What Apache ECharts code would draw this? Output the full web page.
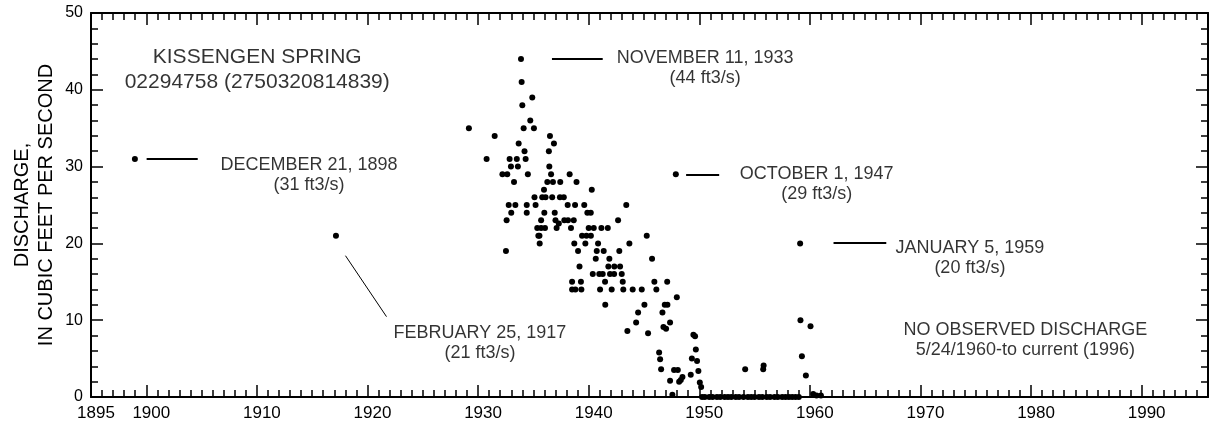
<!DOCTYPE html>
<html>
<head>
<meta charset="utf-8">
<script src="https://cdn.jsdelivr.net/npm/echarts@6/dist/echarts.min.js"></script>
<style>
  html, body { margin: 0; padding: 0; background: #fff; }
  #chart { width: 1213px; height: 427px; }
</style>
</head>
<body>
<div id="chart"></div>
<script>
// ---- data (decimal year, discharge ft3/s) ----
const obsYear = [
  1898.97, 1917.15,
  1929.17, 1930.77, 1931.50, 1932.20, 1932.52, 1932.58, 1932.64, 1932.77, 1932.85, 1932.97,
  1933.00, 1933.25, 1933.37, 1933.50, 1933.60, 1933.67, 1933.88, 1933.94, 1934.00, 1934.12,
  1934.20, 1934.30, 1934.40, 1934.40, 1934.50, 1934.72, 1934.90, 1935.05, 1935.10, 1935.20,
  1935.35, 1935.45, 1935.55, 1935.57, 1935.70, 1935.70, 1935.80, 1935.96, 1935.99, 1936.05,
  1936.10, 1936.26, 1936.40, 1936.44, 1936.50, 1936.60, 1936.70, 1936.77, 1936.86, 1936.93,
  1937.00, 1937.10, 1937.30, 1937.40, 1937.43, 1937.75, 1937.80, 1938.10, 1938.13, 1938.28,
  1938.40, 1938.50, 1938.50, 1938.65, 1938.70, 1938.77, 1938.80, 1938.90, 1939.04, 1939.17,
  1939.30, 1939.34, 1939.40, 1939.60, 1939.70, 1939.80, 1939.88, 1940.00, 1940.19, 1940.20,
  1940.28, 1940.37, 1940.46, 1940.64, 1940.73, 1940.85, 1940.96, 1941.03, 1941.15, 1941.27,
  1941.36, 1941.48, 1941.50, 1941.73, 1941.78, 1941.87, 1941.93, 1942.08, 1942.30, 1942.32,
  1942.66, 1942.77, 1942.84, 1942.99, 1943.08, 1943.13, 1943.40, 1943.50, 1943.68, 1943.98,
  1944.29, 1944.47, 1944.80, 1945.04, 1945.25, 1945.37, 1945.73, 1945.94, 1946.12, 1946.37,
  1946.46, 1946.55, 1946.67, 1946.76, 1946.88, 1947.00, 1947.10, 1947.12, 1947.36, 1947.36,
  1947.57, 1947.72, 1947.88, 1947.97, 1948.06, 1948.18, 1948.33, 1948.48, 1949.23, 1949.33,
  1949.47, 1949.62, 1949.69, 1949.80, 1949.92, 1950.05, 1950.17,
  1950.25, 1950.50, 1950.90, 1951.20, 1951.60, 1951.90, 1952.30, 1952.60, 1952.90, 1953.30,
  1953.60, 1954.00, 1954.40, 1954.70, 1955.00, 1955.40, 1955.70, 1956.10, 1956.40, 1956.80,
  1957.10, 1957.50, 1957.80, 1958.10, 1958.40, 1958.70, 1959.00,
  1954.15, 1955.78, 1955.82, 1959.12, 1959.15, 1959.28, 1959.64, 1960.06, 1960.30, 1960.60, 1961.00
];
const obsQ = [
  31, 21,
  35, 31, 34, 29, 19, 23, 29, 25, 31, 30,
  24, 28, 25, 31, 30, 33, 44, 41, 38, 35,
  32, 31, 25, 24, 29, 36, 39, 35, 26, 25,
  22, 21, 21, 20, 23, 22, 26, 27, 24, 22,
  26, 28, 32, 30, 34, 29, 26, 28, 33, 24,
  23, 22, 22.6, 26, 28, 26, 23, 25, 23, 29,
  22, 15, 14, 23, 20, 25, 14, 28, 19, 17,
  15, 14, 21, 25, 20, 21, 24, 22, 24, 21,
  27, 16, 22, 18, 19, 20, 16, 14, 22, 16,
  19, 15, 12, 22, 17, 18, 16, 14, 16, 17,
  23, 19, 17, 16, 15, 14, 25, 8.6, 20, 14,
  9.7, 11, 14, 12, 21, 8.3, 18, 15, 14, 5.8,
  4.9, 3.6, 11, 9.1, 12, 8.9, 15, 12, 9.7, 2.1,
  0.3, 3.5, 29, 13, 3.5, 2.0, 2.2, 2.6, 2.9, 5.0,
  8.1, 7.9, 6.2, 4.7, 3.4, 1.9, 1.3,
  0, 0, 0, 0, 0, 0, 0, 0, 0, 0,
  0, 0, 0, 0, 0, 0, 0, 0, 0, 0,
  0, 0, 0, 0, 0, 0, 0,
  3.6, 3.6, 4.1, 20, 10, 5.3, 2.8, 9.2, 0.4, 0.2, 0.2
];
const xLabelYears = [1895, 1900, 1910, 1920, 1930, 1940, 1950, 1960, 1970, 1980, 1990];
const xMajorYears = [1900, 1910, 1920, 1930, 1940, 1950, 1960, 1970, 1980, 1990];

// annotation texts (anchored in data units)
const noteText = [
  'DECEMBER 21, 1898\n(31 ft3/s)',
  'FEBRUARY 25, 1917\n(21 ft3/s)',
  'NOVEMBER 11, 1933\n(44 ft3/s)',
  'OCTOBER 1, 1947\n(29 ft3/s)',
  'JANUARY 5, 1959\n(20 ft3/s)',
  'NO OBSERVED DISCHARGE\n5/24/1960-to current (1996)'
];
const noteX = [1914.72, 1930.17, 1950.53, 1960.62, 1974.47, 1979.49];
const noteY = [28.91, 7.03, 42.77, 27.76, 18.10, 7.42];
const titleText = 'KISSENGEN SPRING\n02294758 (2750320814839)';
const titleX = 1910.03, titleY = 42.64;
// leader lines [x1, y1, x2, y2]
const leaders = [
  [1900.03, 31.0, 1904.65, 31.0],
  [1918.01, 18.40, 1921.72, 10.46],
  [1936.68, 44.0, 1941.27, 44.0],
  [1948.81, 28.9, 1951.80, 28.9],
  [1962.14, 20.05, 1966.91, 20.05]
];

// ---- build ----
const FONT = '"Liberation Sans", Arial, Helvetica, sans-serif';
const points = obsYear.map((y, i) => [y, obsQ[i]]);
const notes = noteText.map((t, i) => [noteX[i], noteY[i], t]);

const gridPos = { left: 91, right: 5, top: 13, bottom: 30, containLabel: false, outerBoundsMode: 'none' };
const lineBlack = { show: true, onZero: false, lineStyle: { color: '#000', width: 2 } };

const option = {
  animation: false,
  backgroundColor: '#fff',
  textStyle: { fontFamily: FONT },
  grid: [Object.assign({}, gridPos), Object.assign({}, gridPos)],
  xAxis: [
    {
      gridIndex: 0, type: 'value', position: 'bottom', min: 1895, max: 1996, interval: 1,
      axisLine: lineBlack,
      axisTick: { show: true, inside: true, length: 7, lineStyle: { color: '#000', width: 1.5 } },
      splitLine: { show: false },
      axisLabel: {
        show: true, color: '#000', fontSize: 17, fontFamily: FONT, margin: 8,
        showMinLabel: true, showMaxLabel: false, padding: [0, 0, 0, 10],
        formatter: v => (xLabelYears.indexOf(Math.round(v)) >= 0 && Math.abs(v - Math.round(v)) < 1e-6) ? String(Math.round(v)) : ''
      }
    },
    {
      gridIndex: 0, type: 'value', position: 'top', min: 1895, max: 1996, interval: 1,
      axisLine: lineBlack,
      axisTick: { show: true, inside: true, length: 7, lineStyle: { color: '#000', width: 1.5 } },
      splitLine: { show: false }, axisLabel: { show: false }
    },
    {
      gridIndex: 1, type: 'value', position: 'bottom', min: 1895, max: 1996, interval: 5,
      axisLine: { show: false, onZero: false },
      axisTick: { show: true, inside: true, length: 12, customValues: xMajorYears, lineStyle: { color: '#000', width: 1.5 } },
      splitLine: { show: false }, axisLabel: { show: false }
    },
    {
      gridIndex: 1, type: 'value', position: 'top', min: 1895, max: 1996, interval: 5,
      axisLine: { show: false, onZero: false },
      axisTick: { show: true, inside: true, length: 12, customValues: xMajorYears, lineStyle: { color: '#000', width: 1.5 } },
      splitLine: { show: false }, axisLabel: { show: false }
    }
  ],
  yAxis: [
    {
      gridIndex: 0, type: 'value', position: 'left', min: 0, max: 50, interval: 10,
      axisLine: lineBlack,
      axisTick: { show: true, inside: true, length: 12, lineStyle: { color: '#000', width: 1.5 } },
      minorTick: { show: true, splitNumber: 5, length: 7, lineStyle: { color: '#000', width: 1.5 } },
      splitLine: { show: false }, minorSplitLine: { show: false },
      axisLabel: { color: '#000', fontSize: 16, fontFamily: FONT, margin: 8 },
      name: 'DISCHARGE,\nIN CUBIC FEET PER SECOND',
      nameLocation: 'middle', nameRotate: 90, nameGap: 33, nameMoveOverlap: false,
      nameTextStyle: { color: '#000', fontSize: 20, fontFamily: FONT, lineHeight: 24 }
    },
    {
      gridIndex: 0, type: 'value', position: 'right', min: 0, max: 50, interval: 10,
      axisLine: lineBlack,
      axisTick: { show: true, inside: true, length: 12, lineStyle: { color: '#000', width: 1.5 } },
      minorTick: { show: true, splitNumber: 5, length: 7, lineStyle: { color: '#000', width: 1.5 } },
      splitLine: { show: false }, axisLabel: { show: false }
    },
    { gridIndex: 1, type: 'value', min: 0, max: 50, show: false }
  ],
  series: [
    {
      type: 'scatter', xAxisIndex: 0, yAxisIndex: 0, data: points,
      symbol: 'circle', symbolSize: 6, clip: false,
      itemStyle: { color: '#000', opacity: 1 }, silent: true
    },
    {
      type: 'scatter', xAxisIndex: 0, yAxisIndex: 0,
      data: notes, symbolSize: 1, itemStyle: { color: 'rgba(0,0,0,0)' }, silent: true,
      label: {
        show: true, position: 'inside', color: '#000', fontSize: 18, fontFamily: FONT,
        lineHeight: 20, align: 'center', verticalAlign: 'middle',
        formatter: p => p.data[2]
      },
      markLine: {
        silent: true, symbol: ['none', 'none'], label: { show: false },
        lineStyle: { color: '#000', width: 2, type: 'solid' },
        data: leaders.map((l, i) => [
          { coord: [l[0], l[1]], lineStyle: { color: '#000', width: i === 1 ? 1 : 2, type: 'solid' } },
          { coord: [l[2], l[3]] }
        ])
      }
    },
    {
      type: 'scatter', xAxisIndex: 0, yAxisIndex: 0,
      data: [[titleX, titleY, titleText]], symbolSize: 1, itemStyle: { color: 'rgba(0,0,0,0)' }, silent: true,
      label: {
        show: true, position: 'inside', color: '#000', fontSize: 21, fontFamily: FONT,
        lineHeight: 25, align: 'center', verticalAlign: 'middle',
        formatter: p => p.data[2]
      }
    }
  ]
};

const chart = echarts.init(document.getElementById('chart'), null, { renderer: 'canvas' });
chart.setOption(option);
</script>
</body>
</html>
